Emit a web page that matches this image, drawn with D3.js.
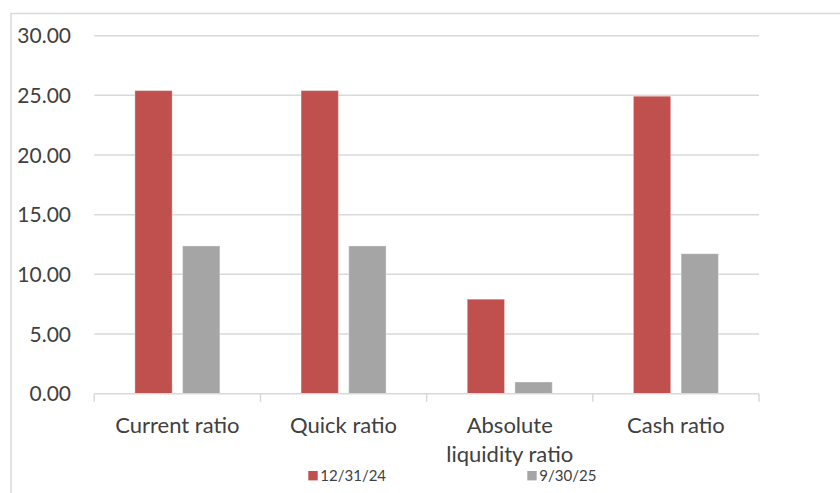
<!DOCTYPE html>
<html>
<head>
<meta charset="utf-8">
<script src="https://cdn.jsdelivr.net/npm/d3@7"></script>
<style>
  body { margin: 0; background: #fff; }
  svg { display: block; }
</style>
</head>
<body>
<div id="chart"></div>
<script>
var categories = ["Current ratio", "Quick ratio", "Absolute liquidity ratio", "Cash ratio"];
var seriesNames = ["12/31/24", "9/30/25"];
var values2024 = [25.4, 25.4, 7.92, 24.93];
var values2025 = [12.38, 12.38, 0.98, 11.73];
var yTicks = [0, 5, 10, 15, 20, 25, 30];
var colors = ["#C0504D", "#A5A5A5"];

function draw_Ratios() {
    "use strict";
    var width = 840, height = 493;
    var svg = d3.select("#chart")
        .append("svg")
        .attr("width", width)
        .attr("height", height);

    // outer chart frame (runs off the right and bottom edge)
    svg.append("path")
        .attr("d", "M11,493V13.5H840")
        .attr("fill", "none")
        .attr("stroke", "#D9D9D9")
        .attr("stroke-width", 1.5);

    var x0 = d3.scaleBand()
        .domain(categories)
        .range([94.3, 759])
        .padding(0);

    var x1 = d3.scaleBand()
        .domain(seriesNames)
        .range([0, x0.bandwidth()])
        .paddingInner(0.218)
        .paddingOuter(0.851);

    var y = d3.scaleLinear()
        .domain([0, 30])
        .range([393.7, 35.7]);

    // gridlines
    svg.append("g")
        .selectAll("line")
        .data(yTicks.slice(1))
        .enter()
        .append("line")
        .attr("x1", 94.3)
        .attr("x2", 759)
        .attr("y1", function (d) { return y(d); })
        .attr("y2", function (d) { return y(d); })
        .attr("stroke", "#D9D9D9")
        .attr("stroke-width", 1.5);

    // y labels
    svg.append("g")
        .selectAll("text")
        .data(yTicks)
        .enter()
        .append("text")
        .attr("x", 71)
        .attr("y", function (d) { return y(d); })
        .attr("dy", "0.36em")
        .attr("text-anchor", "end")
        .style("font-family", "Lato, sans-serif")
        .style("font-size", "21px")
        .style("fill", "#404040")
        .text(function (d) { return d3.format(".2f")(d); });

    var rows = categories.map(function (c, i) {
        return { cat: c, vals: [values2024[i], values2025[i]] };
    });

    var groups = svg.append("g")
        .selectAll("g")
        .data(rows)
        .enter()
        .append("g")
        .attr("transform", function (d) { return "translate(" + x0(d.cat) + ",0)"; });

    groups.selectAll("rect")
        .data(function (d) {
            return d.vals.map(function (v, j) { return { name: seriesNames[j], value: v, idx: j }; });
        })
        .enter()
        .append("rect")
        .attr("x", function (d) { return x1(d.name); })
        .attr("width", x1.bandwidth())
        .attr("y", function (d) { return y(d.value); })
        .attr("height", function (d) { return y(0) - y(d.value); })
        .attr("fill", function (d) { return colors[d.idx]; })
        .attr("stroke", "#fff")
        .attr("stroke-opacity", 0.35)
        .attr("stroke-width", 1);

    // x axis line and tick marks
    svg.append("line")
        .attr("x1", 94.3)
        .attr("x2", 759)
        .attr("y1", y(0))
        .attr("y2", y(0))
        .attr("stroke", "#D9D9D9")
        .attr("stroke-width", 1.5);

    var tickXs = categories.map(function (c) { return x0(c); }).concat([759]);
    svg.append("g")
        .selectAll("line")
        .data(tickXs)
        .enter()
        .append("line")
        .attr("x1", function (d) { return d; })
        .attr("x2", function (d) { return d; })
        .attr("y1", y(0))
        .attr("y2", y(0) + 8)
        .attr("stroke", "#D9D9D9")
        .attr("stroke-width", 1.5);

    // category labels, wrapped like the original
    var labelLines = {
        "Absolute liquidity ratio": ["Absolute", "liquidity ratio"]
    };
    var labels = svg.append("g")
        .selectAll("text")
        .data(categories)
        .enter()
        .append("text")
        .attr("text-anchor", "middle")
        .style("font-family", "Lato, sans-serif")
        .style("font-size", "22px")
        .style("fill", "#404040");

    labels.each(function (d) {
        var lines = labelLines[d] || [d];
        var cx = x0(d) + x0.bandwidth() / 2;
        d3.select(this).selectAll("tspan")
            .data(lines)
            .enter()
            .append("tspan")
            .attr("x", cx)
            .attr("y", function (l, i) { return 432.5 + i * 29; })
            .text(function (l) { return l; });
    });

    // legend
    var legendX = [308.3, 527.3];
    var legend = svg.append("g")
        .selectAll("g")
        .data(seriesNames)
        .enter()
        .append("g")
        .attr("transform", function (d, i) { return "translate(" + legendX[i] + ",471)"; });

    legend.append("rect")
        .attr("width", 9.4)
        .attr("height", 9.4)
        .attr("fill", function (d, i) { return colors[i]; });

    legend.append("text")
        .attr("x", 12)
        .attr("y", 9.7)
        .style("font-family", "Lato, sans-serif")
        .style("font-size", "15px")
        .style("fill", "#404040")
        .text(function (d) { return d; });
}

draw_Ratios();
</script>
</body>
</html>
